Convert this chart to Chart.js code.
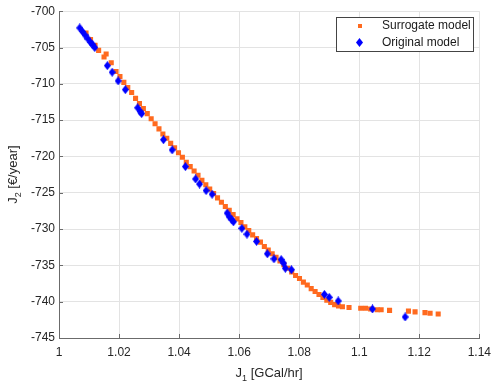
<!DOCTYPE html>
<html>
<head>
<meta charset="utf-8">
<script src="https://cdn.jsdelivr.net/npm/chart.js@4.4.0/dist/chart.umd.min.js"></script>
<style>
  html, body { margin: 0; padding: 0; background: #fff; }
</style>
</head>
<body>
<canvas id="chart" width="498" height="386"></canvas>
<script>
// Surrogate model (orange squares)
const surrogateX = [1.0090,1.0105,1.0120,1.0132,1.0157,1.0150,1.0174,1.0190,1.0203,1.0216,1.0229,1.0242,1.0255,1.0268,1.0281,1.0294,1.0307,1.0320,1.0333,1.0346,1.0359,1.0372,1.0385,1.0398,1.0411,1.0424,1.0437,1.0450,1.0463,1.0476,1.0489,1.0502,1.0515,1.0528,1.0541,1.0554,1.0567,1.0580,1.0593,1.0606,1.0619,1.0632,1.0645,1.0658,1.0671,1.0684,1.0697,1.0710,1.0723,1.0736,1.0749,1.0762,1.0775,1.0788,1.0801,1.0814,1.0827,1.0840,1.0853,1.0866,1.0879,1.0892,1.0905,1.0918,1.0931,1.0944,1.0966,1.1005,1.1021,1.1038,1.1060,1.1073,1.1101,1.1164,1.1186,1.1219,1.1236,1.1263];
const surrogateY = [-703.0,-703.9,-704.7,-705.4,-705.9,-706.3,-707.1,-708.3,-709.0,-709.8,-710.5,-711.2,-712.0,-712.7,-713.4,-714.1,-714.8,-715.5,-716.2,-716.9,-717.5,-718.2,-718.8,-719.5,-720.1,-720.8,-721.4,-722.0,-722.6,-723.3,-723.9,-724.5,-725.1,-725.7,-726.3,-726.9,-727.4,-728.0,-728.6,-729.1,-729.7,-730.2,-730.8,-731.3,-731.8,-732.4,-732.9,-733.4,-733.9,-734.4,-734.9,-735.4,-735.9,-736.4,-736.8,-737.3,-737.7,-738.2,-738.6,-739.0,-739.4,-739.8,-740.1,-740.4,-740.6,-740.7,-740.8,-740.9,-740.9,-741.0,-741.1,-741.1,-741.2,-741.3,-741.4,-741.5,-741.6,-741.7];

// Original model (blue diamonds)
const originalX = [1.0069,1.0078,1.0087,1.0096,1.0105,1.0112,1.0119,1.0161,1.0177,1.0197,1.0221,1.0262,1.0270,1.0275,1.0348,1.0377,1.0421,1.0455,1.0468,1.0490,1.0510,1.0560,1.0567,1.0575,1.0581,1.0609,1.0626,1.0658,1.0694,1.0716,1.0740,1.0748,1.0754,1.0774,1.0884,1.0900,1.0930,1.1044,1.1153];
const originalY = [-702.3,-702.8,-703.3,-703.8,-704.3,-704.6,-705.0,-707.5,-708.4,-709.6,-710.8,-713.3,-713.8,-714.1,-717.7,-719.1,-721.4,-723.1,-723.8,-724.7,-725.2,-727.8,-728.3,-728.7,-729.0,-729.9,-730.7,-731.7,-733.4,-734.1,-734.2,-734.7,-735.4,-735.6,-739.0,-739.4,-739.9,-741.0,-742.1];

const xTicks = [1, 1.02, 1.04, 1.06, 1.08, 1.1, 1.12, 1.14];
const xTickLabels = ['1', '1.02', '1.04', '1.06', '1.08', '1.1', '1.12', '1.14'];
const yTicks = [-745, -740, -735, -730, -725, -720, -715, -710, -705, -700];
const yTickLabels = ['-745', '-740', '-735', '-730', '-725', '-720', '-715', '-710', '-705', '-700'];

const seriesNames = ['Surrogate model', 'Original model'];

const ORANGE = '#ff6a1f';
const BLUE = '#0000ff';
const AXIS = '#6b6b6b';
const FONT = '"Liberation Sans", Arial, sans-serif';

// diamond marker (taller than wide)
function makeDiamond(w, h) {
    const c = document.createElement('canvas');
    c.width = w; c.height = h;
    const g = c.getContext('2d');
    g.fillStyle = BLUE;
    g.beginPath();
    g.moveTo(w / 2, 0);
    g.lineTo(w, h / 2);
    g.lineTo(w / 2, h);
    g.lineTo(0, h / 2);
    g.closePath();
    g.fill();
    return c;
}
const diamond = makeDiamond(7, 9);

function drawSub(ctx, x, y, main, sub, rest) {
    ctx.save();
    ctx.fillStyle = '#262626';
    ctx.textBaseline = 'alphabetic';
    ctx.textAlign = 'left';
    ctx.font = '13px ' + FONT;
    const w1 = ctx.measureText(main).width;
    const w3 = ctx.measureText(rest).width;
    ctx.font = '9px ' + FONT;
    const w2 = ctx.measureText(sub).width;
    let px = x - (w1 + w2 + w3) / 2;
    ctx.font = '13px ' + FONT;
    ctx.fillText(main, px, y);
    px += w1;
    ctx.font = '9px ' + FONT;
    ctx.fillText(sub, px, y + 4);
    px += w2;
    ctx.font = '13px ' + FONT;
    ctx.fillText(rest, px, y);
    ctx.restore();
}

const extras = {
    id: 'extras',
    afterDraw(chart) {
        const ctx = chart.ctx;
        const a = chart.chartArea;
        const xs = chart.scales.x, ys = chart.scales.y;

        // inward tick marks
        ctx.save();
        ctx.strokeStyle = AXIS;
        ctx.lineWidth = 1;
        ctx.beginPath();
        xTicks.forEach(v => {
            const px = Math.round(xs.getPixelForValue(v)) + 0.5;
            ctx.moveTo(px, a.bottom);
            ctx.lineTo(px, a.bottom - 4);
        });
        yTicks.forEach(v => {
            const py = Math.round(ys.getPixelForValue(v)) + 0.5;
            ctx.moveTo(a.left, py);
            ctx.lineTo(a.left + 4, py);
        });
        ctx.stroke();
        ctx.restore();

        // axis titles
        drawSub(ctx, (a.left + a.right) / 2, 377, 'J', '1', ' [GCal/hr]');
        ctx.save();
        ctx.translate(17, (a.top + a.bottom) / 2);
        ctx.rotate(-Math.PI / 2);
        drawSub(ctx, 0, 0, 'J', '2', ' [\u20ac/year]');
        ctx.restore();

        // legend
        const bx = 336, by = 17, bw = 137, bh = 34;
        ctx.save();
        ctx.fillStyle = '#fff';
        ctx.fillRect(bx, by, bw, bh);
        ctx.strokeStyle = '#444';
        ctx.lineWidth = 1;
        ctx.strokeRect(bx + 0.5, by + 0.5, bw, bh);
        ctx.fillStyle = ORANGE;
        ctx.fillRect(358, 24, 4, 4);
        ctx.drawImage(diamond, 356, 38);
        ctx.fillStyle = '#1a1a1a';
        ctx.font = '12px ' + FONT;
        ctx.textBaseline = 'middle';
        ctx.fillText(seriesNames[0], 382, 26);
        ctx.fillText(seriesNames[1], 382, 43);
        ctx.restore();
    }
};

new Chart(document.getElementById('chart'), {
    type: 'scatter',
    data: {
        datasets: [
            {
                label: seriesNames[0],
                data: surrogateX.map((x, i) => ({ x: x, y: surrogateY[i] })),
                pointStyle: 'rect',
                pointRadius: 3.6,
                pointHoverRadius: 3.6,
                backgroundColor: ORANGE,
                borderWidth: 0,
                order: 2
            },
            {
                label: seriesNames[1],
                data: originalX.map((x, i) => ({ x: x, y: originalY[i] })),
                pointStyle: diamond,
                backgroundColor: BLUE,
                borderWidth: 0,
                order: 1
            }
        ]
    },
    options: {
        responsive: false,
        animation: false,
        layout: { padding: { top: 6, right: 15, left: 0, bottom: 0 } },
        plugins: {
            legend: { display: false },
            tooltip: { enabled: false }
        },
        scales: {
            x: {
                type: 'linear',
                min: 1,
                max: 1.14,
                afterBuildTicks: s => { s.ticks = xTicks.map(v => ({ value: v })); },
                afterFit: s => { s.height = 48; },
                ticks: {
                    callback: (v, i) => xTickLabels[i],
                    color: '#262626',
                    font: { family: FONT, size: 12 },
                    padding: 7,
                    maxRotation: 0
                },
                grid: { color: '#e3e3e3', drawTicks: false },
                border: { color: AXIS }
            },
            y: {
                type: 'linear',
                min: -745,
                max: -700,
                afterBuildTicks: s => { s.ticks = yTicks.map(v => ({ value: v })); },
                afterFit: s => { s.width = 59; },
                ticks: {
                    callback: (v, i) => yTickLabels[i],
                    color: '#262626',
                    font: { family: FONT, size: 12 },
                    padding: 4
                },
                grid: { color: '#e3e3e3', drawTicks: false },
                border: { color: AXIS }
            }
        }
    },
    plugins: [extras]
});
</script>
</body>
</html>
